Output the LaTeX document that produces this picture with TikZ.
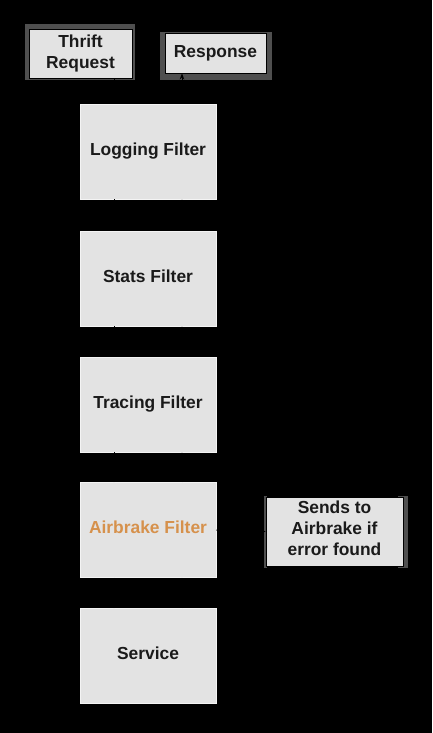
\documentclass[tikz,border=0pt]{standalone}
\usepackage{fontspec}
\setmainfont{Liberation Sans}
\usetikzlibrary{arrows.meta}
\definecolor{boxfill}{HTML}{E3E3E3}
\definecolor{boxedge}{HTML}{F4F4F4}
\definecolor{framegray}{HTML}{4F4F4F}
\definecolor{orangetext}{HTML}{D6914C}
\definecolor{ink}{HTML}{1A1A1A}
\begin{document}
\begin{tikzpicture}[x=1pt,y=-1pt,
  lbl/.style={font=\fontsize{17.4}{21.2}\selectfont\bfseries, text=ink, align=center},
  filterbox/.style={lbl, rectangle, fill=boxfill, draw=boxedge, line width=0.8pt,
    minimum width=136pt, minimum height=95pt, inner sep=0pt, text height=12.5pt, text depth=5pt},
  smallbox/.style={lbl, rectangle, fill=boxfill, draw=black, line width=0.8pt, inner sep=0pt},
  arr/.style={draw=black, line width=1pt, -{Stealth[length=6pt]}}]
\fill[black] (0,0) rectangle (432,733);
\useasboundingbox (0,0) rectangle (432,733);
% frames behind the small boxes
\fill[framegray] (25,24) rectangle (135,80);
\fill[framegray] (160,32) rectangle (272,80);
\fill[framegray] (398,496) rectangle (408,568);
\fill[framegray] (264,496) rectangle (267,568);
% small boxes
\node[smallbox, minimum width=103pt, minimum height=49pt] (thrift) at (80.5,53.5) {Thrift\\Request};
\node[smallbox, minimum width=101pt, minimum height=40pt] (response) at (215.5,53) {Response};
\node[smallbox, minimum width=137pt, minimum height=69pt] (sends) at (334.5,531.5) {};
\node[lbl] (sendstext) at ([yshift=3pt]sends.center) {Sends to\\Airbrake if\\error found};
% filter column
\node[filterbox] (logging) at (148,151.5) {Logging Filter};
\node[filterbox] (stats) at (148,278.5) {Stats Filter};
\node[filterbox] (tracing) at (148,404.5) {Tracing Filter};
\node[filterbox, text=orangetext] (airbrake) at (148,530) {Airbrake Filter};
\node[filterbox] (service) at (148,656) {Service};
% connector columns
\coordinate (dn) at (114,0);
\coordinate (up) at (182,0);
\draw[arr] (thrift.south -| dn) -- (logging.north -| dn);
\draw[arr] (logging.north -| up) -- (response.south -| up);
\draw[arr] (logging.south -| dn) -- (stats.north -| dn);
\draw[arr] (stats.north -| up) -- (logging.south -| up);
\draw[arr] (stats.south -| dn) -- (tracing.north -| dn);
\draw[arr] (tracing.north -| up) -- (stats.south -| up);
\draw[arr] (tracing.south -| dn) -- (airbrake.north -| dn);
\draw[arr] (airbrake.north -| up) -- (tracing.south -| up);
\draw[arr] (airbrake.south -| dn) -- (service.north -| dn);
\draw[arr] (service.north -| up) -- (airbrake.south -| up);
\draw[arr] (airbrake.east) -- (sends.west);
\end{tikzpicture}
\end{document}
